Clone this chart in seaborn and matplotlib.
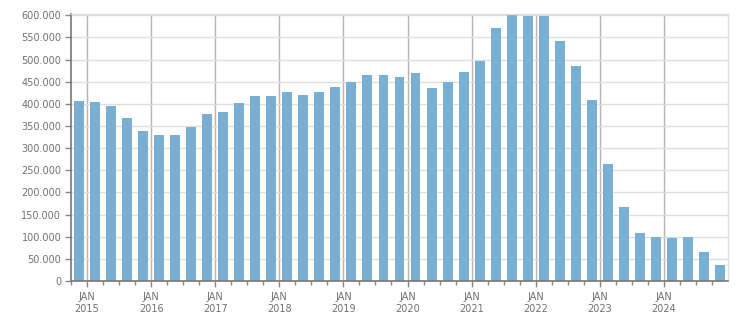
import matplotlib
matplotlib.use("Agg")
import matplotlib.pyplot as plt
import matplotlib.ticker as mticker
import seaborn as sns
import pandas as pd

# quarterly values, Q4 2014 .. Q4 2024
quarters = [f"{y}-Q{q}" for y in range(2014, 2025) for q in range(1, 5)][3:]
values = [
    406000, 404000, 395000, 368000, 338000, 329000, 329000, 347000,
    377000, 381000, 401000, 417000, 417000, 426000, 420000, 426000,
    438000, 449000, 465000, 465000, 460000, 469000, 435000, 449000,
    471000, 496000, 571000, 603000, 599000, 599000, 541000, 485000,
    408000, 264000, 167000, 108000, 99000, 97000, 99000, 65000, 36000,
]
years = list(range(2015, 2025))

# bar centre = middle of the quarter, in decimal years
pos = [int(q[:4]) + (int(q[-1]) - 1) * 0.25 + 0.125 for q in quarters]
df = pd.DataFrame({"pos": pos, "value": values})

sns.set_style("white")
plt.rcParams["font.family"] = ["DejaVu Sans"]

fig = plt.figure(figsize=(7.51, 3.13), dpi=100)
ax = fig.add_axes([71 / 751, 1 - 281 / 313, (728 - 71) / 751, (281 - 13.5) / 313])

sns.barplot(data=df, x="pos", y="value", native_scale=True, width=0.62,
            color="#77b0d3", saturation=1, edgecolor="none", ax=ax)

ax.set_xlim(2014.75, 2025.0)
ax.set_ylim(0, 604000)
ax.set_axisbelow(True)

ax.yaxis.set_major_locator(mticker.MultipleLocator(50000))
ax.yaxis.set_major_formatter(mticker.FuncFormatter(lambda v, p: f"{v:,.0f}".replace(",", ".")))
ax.grid(axis="y", color="#dedede", lw=1)

ax.set_xticks(years)
ax.set_xticklabels([f"JAN\n{y}" for y in years])
ax.xaxis.set_minor_locator(mticker.FixedLocator(
    [y + f for y in range(2014, 2025) for f in (0.25, 0.5, 0.75)]))
ax.grid(axis="x", which="major", color="#b4b4b4", lw=1)

ax.tick_params(axis="both", which="major", length=4, width=1, color="#888888",
               labelsize=7, labelcolor="#707070", pad=3)
ax.tick_params(axis="x", which="minor", length=3, width=1, color="#888888")
ax.tick_params(axis="x", which="major", pad=4)
ax.tick_params(left=True, bottom=True)
ax.tick_params(axis="x", which="minor", bottom=True)

ax.set_xlabel("")
ax.set_ylabel("")
for s in ["left", "bottom"]:
    ax.spines[s].set_color("#777777")
    ax.spines[s].set_linewidth(1.2)
for s in ["top", "right"]:
    ax.spines[s].set_color("#dedede")
    ax.spines[s].set_linewidth(1)

fig.savefig("out.png", dpi=100)
